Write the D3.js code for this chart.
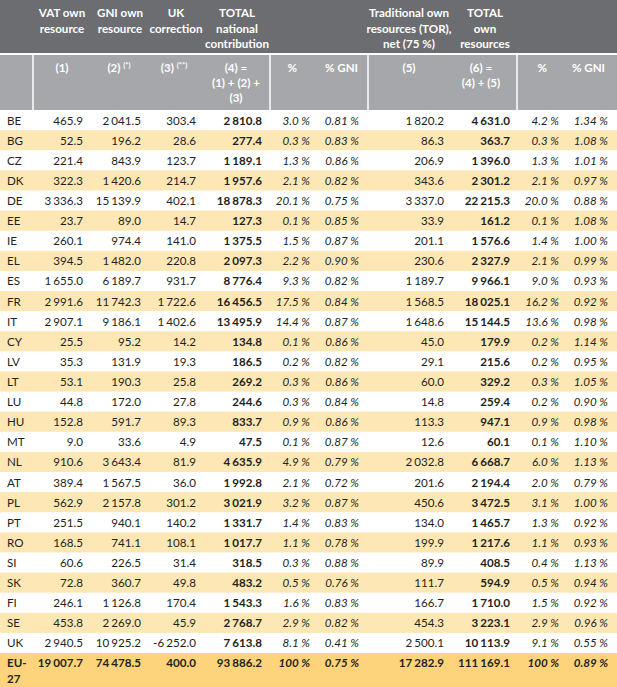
<!DOCTYPE html>
<html><head><meta charset="utf-8">
<script src="https://cdn.jsdelivr.net/npm/d3@7"></script>
<style>
html,body{margin:0;padding:0;background:#fff;}
svg{display:block;font-family:Lato,"Open Sans",sans-serif;}
</style></head>
<body><svg id="chart" width="617" height="687"></svg>
<script>
// ---------- DATA ----------
const countries = ["BE","BG","CZ","DK","DE","EE","IE","EL","ES","FR","IT","CY","LV","LT","LU","HU","MT","NL","AT","PL","PT","RO","SI","SK","FI","SE","UK"];
const vatOwn = [465.9,52.5,221.4,322.3,3336.3,23.7,260.1,394.5,1655.0,2991.6,2907.1,25.5,35.3,53.1,44.8,152.8,9.0,910.6,389.4,562.9,251.5,168.5,60.6,72.8,246.1,453.8,2940.5];
const gniOwn = [2041.5,196.2,843.9,1420.6,15139.9,89.0,974.4,1482.0,6189.7,11742.3,9186.1,95.2,131.9,190.3,172.0,591.7,33.6,3643.4,1567.5,2157.8,940.1,741.1,226.5,360.7,1126.8,2269.0,10925.2];
const ukCorrection = [303.4,28.6,123.7,214.7,402.1,14.7,141.0,220.8,931.7,1722.6,1402.6,14.2,19.3,25.8,27.8,89.3,4.9,81.9,36.0,301.2,140.2,108.1,31.4,49.8,170.4,45.9,-6252.0];
const totalNational = [2810.8,277.4,1189.1,1957.6,18878.3,127.3,1375.5,2097.3,8776.4,16456.5,13495.9,134.8,186.5,269.2,244.6,833.7,47.5,4635.9,1992.8,3021.9,1331.7,1017.7,318.5,483.2,1543.3,2768.7,7613.8];
const pctNational = [3.0,0.3,1.3,2.1,20.1,0.1,1.5,2.2,9.3,17.5,14.4,0.1,0.2,0.3,0.3,0.9,0.1,4.9,2.1,3.2,1.4,1.1,0.3,0.5,1.6,2.9,8.1];
const pctGniNational = [0.81,0.83,0.86,0.82,0.75,0.85,0.87,0.90,0.82,0.84,0.87,0.86,0.82,0.86,0.84,0.86,0.87,0.79,0.72,0.87,0.83,0.78,0.88,0.76,0.83,0.82,0.41];
const torNet = [1820.2,86.3,206.9,343.6,3337.0,33.9,201.1,230.6,1189.7,1568.5,1648.6,45.0,29.1,60.0,14.8,113.3,12.6,2032.8,201.6,450.6,134.0,199.9,89.9,111.7,166.7,454.3,2500.1];
const totalOwn = [4631.0,363.7,1396.0,2301.2,22215.3,161.2,1576.6,2327.9,9966.1,18025.1,15144.5,179.9,215.6,329.2,259.4,947.1,60.1,6668.7,2194.4,3472.5,1465.7,1217.6,408.5,594.9,1710.0,3223.1,10113.9];
const pctOwn = [4.2,0.3,1.3,2.1,20.0,0.1,1.4,2.1,9.0,16.2,13.6,0.2,0.2,0.3,0.2,0.9,0.1,6.0,2.0,3.1,1.3,1.1,0.4,0.5,1.5,2.9,9.1];
const pctGniOwn = [1.34,1.08,1.01,0.97,0.88,1.08,1.00,0.99,0.93,0.92,0.98,1.14,0.95,1.05,0.90,0.98,1.10,1.13,0.79,1.00,0.92,0.93,1.13,0.94,0.92,0.96,0.55];
const totalLabel = ["EU-","27"];
const totalRow = [19007.7,74478.5,400.0,93886.2,100,0.75,17282.9,111169.1,100,0.89];

const headerTop = [
  {lines:["VAT own","resource"], x:62},
  {lines:["GNI own","resource"], x:120},
  {lines:["UK","correction"], x:176},
  {lines:["TOTAL","national","contribution"], x:237},
  {lines:["Traditional own","resources (TOR),","net (75 %)"], x:409},
  {lines:["TOTAL","own","resources"], x:485}
];
const headerSub = [
  {lines:[["(1)"]], x:62, a:"middle"},
  {lines:[["(2) ","(*)"]], x:119, a:"middle"},
  {lines:[["(3) ","(**)"]], x:174, a:"middle"},
  {lines:[["(4) ="],["(1) + (2) +"],["(3)"]], x:236, a:"middle"},
  {lines:[["%"]], x:297, a:"end"},
  {lines:[["% GNI"]], x:358, a:"end"},
  {lines:[["(5)"]], x:409, a:"middle"},
  {lines:[["(6) ="],["(4) + (5)"]], x:481, a:"middle"},
  {lines:[["%"]], x:547, a:"end"},
  {lines:[["% GNI"]], x:605, a:"end"}
];

// ---------- LAYOUT ----------
const W = 617, H = 687;
const darkH = 53, subTop = 55, subBottom = 110;
const bodyTop = 110, bodyBottom = 653;
const C = {dark:"#6c6d70", light:"#a6a7aa", beige:"#fde7b5", gold:"#fdd47b", text:"#231f20"};

const svg = d3.select("#chart");
const y = d3.scaleBand().domain(countries).range([bodyTop, bodyBottom]);

const cols = [
  {vals:vatOwn, x:83, kind:"num"},
  {vals:gniOwn, x:141, kind:"num"},
  {vals:ukCorrection, x:196, kind:"num"},
  {vals:totalNational, x:262, kind:"num", bold:true},
  {vals:pctNational, x:310, kind:"pct1"},
  {vals:pctGniNational, x:359, kind:"pct2"},
  {vals:torNet, x:444, kind:"num"},
  {vals:totalOwn, x:510, kind:"num", bold:true},
  {vals:pctOwn, x:559, kind:"pct1"},
  {vals:pctGniOwn, x:608, kind:"pct2"}
];

// header backgrounds
svg.append("rect").attr("x",0).attr("y",0).attr("width",W).attr("height",darkH).attr("fill",C.dark);
svg.append("rect").attr("x",0).attr("y",subTop).attr("width",W).attr("height",subBottom-subTop).attr("fill",C.light);
[33,270,368,517].forEach(x=>{
  svg.append("rect").attr("x",x-0.75).attr("y",subTop).attr("width",1.5).attr("height",subBottom-subTop).attr("fill","#fff");
});

// header text
const hg = svg.append("g").attr("fill","#fff").attr("font-weight","bold").attr("font-size","11.6px");
headerTop.forEach(h=>{
  h.lines.forEach((l,i)=>{
    hg.append("text").attr("x",h.x).attr("y",17+i*15.6).attr("text-anchor","middle").text(l);
  });
});
headerSub.forEach(h=>{
  h.lines.forEach((parts,i)=>{
    const t = hg.append("text").attr("x",h.x).attr("y",71.5+i*15.2).attr("text-anchor",h.a);
    t.append("tspan").text(parts[0]);
    if(parts[1]) t.append("tspan").attr("font-size","7.5px").attr("dy",-3.5).text(parts[1]);
  });
});

// rows
const bg = svg.append("g");
countries.forEach((c,i)=>{
  if(i%2===1) bg.append("rect").attr("x",0).attr("y",y(c)).attr("width",W).attr("height",y.bandwidth()).attr("fill",C.beige);
});
bg.append("rect").attr("x",0).attr("y",bodyBottom).attr("width",W).attr("height",H-bodyBottom).attr("fill",C.gold);

const f1 = d3.format(",.1f"), f2 = d3.format(".2f"), fp1 = d3.format(".1f");
function addNum(t, v){
  const s = f1(Math.abs(v)).split(",");
  s.forEach((g,k)=>{
    const ts = t.append("tspan").text((k===0 && v<0 ? "-" : "") + g);
    if(k>0) ts.attr("dx",2.2);
  });
}
function addVal(t, v, kind){
  if(kind==="num") addNum(t,v);
  else if(kind==="pct1") t.text((v===100?"100":fp1(v))+" %");
  else t.text(f2(v)+" %");
}

const tg = svg.append("g").attr("fill",C.text).attr("font-size","11.6px");
countries.forEach((c,i)=>{
  const by = y(c) + 14.6;
  tg.append("text").attr("x",7).attr("y",by).text(c);
  cols.forEach(col=>{
    const t = tg.append("text").attr("x",col.x).attr("y",by).attr("text-anchor","end");
    if(col.bold) t.attr("font-weight","bold");
    if(col.kind!=="num") t.attr("font-style","italic");
    addVal(t, col.vals[i], col.kind);
  });
});
// total row
const ty = bodyBottom + 13.8;
totalLabel.forEach((l,i)=>{
  tg.append("text").attr("x",7).attr("y",ty+i*16).attr("font-weight","bold").text(l);
});
cols.forEach((col,j)=>{
  const t = tg.append("text").attr("x",col.x).attr("y",ty).attr("text-anchor","end").attr("font-weight","bold");
  if(col.kind!=="num") t.attr("font-style","italic");
  addVal(t, totalRow[j], col.kind);
});
</script></body></html>
